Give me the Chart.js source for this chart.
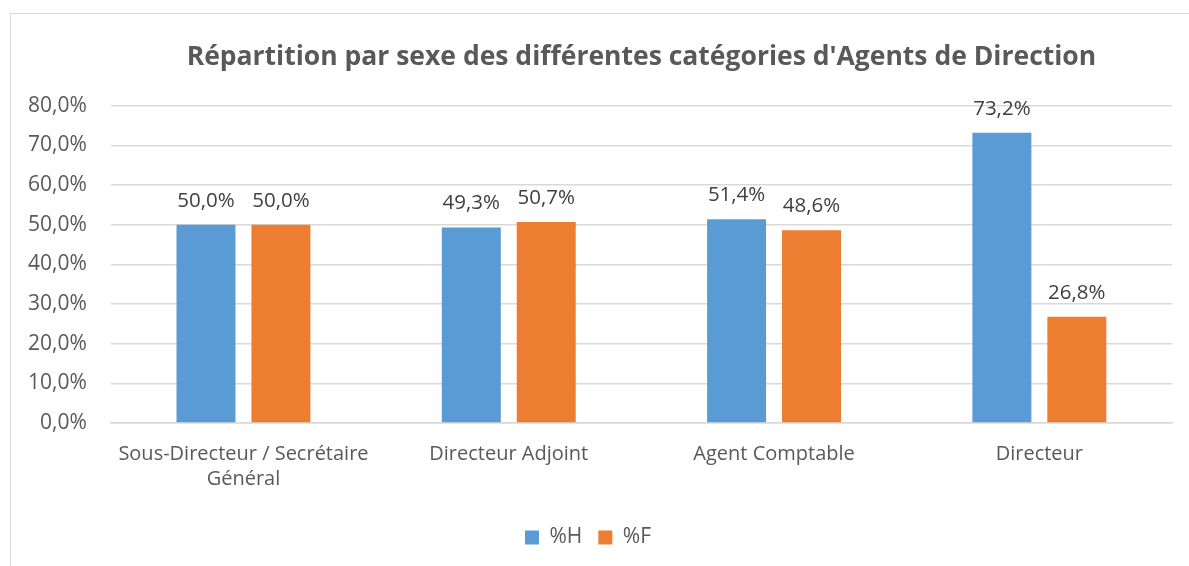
<!DOCTYPE html>
<html>
<head>
<meta charset="utf-8">
<script src="https://cdn.jsdelivr.net/npm/chart.js@4.4.0/dist/chart.umd.min.js"></script>
<style>
  html, body { margin: 0; padding: 0; background: #fff; }
  #frame { position: absolute; left: 10px; top: 13px; width: 1200px; height: 600px; border: 1px solid #d9d9d9; }
  #wrap { position: absolute; left: 0; top: 0; width: 1189px; height: 566px; }
</style>
</head>
<body>
<div id="frame"></div>
<div id="wrap"><canvas id="chart"></canvas></div>
<script>
var categories = [["Sous-Directeur / Secrétaire", "Général"], "Directeur Adjoint", "Agent Comptable", "Directeur"];
var valuesH = [50.0, 49.3, 51.4, 73.2];
var valuesF = [50.0, 50.7, 48.6, 26.8];
var seriesNames = ["%H", "%F"];
var titleText = "Répartition par sexe des différentes catégories d'Agents de Direction";

function fmt(v) {
    return v.toFixed(1).replace(".", ",") + "%";
}

// draw value labels above each bar
var barLabels = {
    id: 'barLabels',
    afterDatasetsDraw: function(chart) {
        var ctx = chart.ctx;
        ctx.save();
        ctx.font = '20.5px "Open Sans", sans-serif';
        ctx.fillStyle = '#404040';
        ctx.textAlign = 'center';
        ctx.textBaseline = 'middle';
        chart.data.datasets.forEach(function(ds, i) {
            chart.getDatasetMeta(i).data.forEach(function(bar, j) {
                ctx.fillText(fmt(ds.data[j]), bar.x, bar.y - 24);
            });
        });
        ctx.restore();
    }
};

var ctx = document.getElementById('chart').getContext('2d');
var chart = new Chart(ctx, {
    type: 'bar',
    data: {
        labels: categories,
        datasets: [{
            label: seriesNames[0],
            data: valuesH,
            backgroundColor: '#5b9bd5',
            categoryPercentage: 0.565,
            barPercentage: 0.787
        }, {
            label: seriesNames[1],
            data: valuesF,
            backgroundColor: '#ed7d31',
            categoryPercentage: 0.565,
            barPercentage: 0.787
        }]
    },
    options: {
        responsive: true,
        maintainAspectRatio: false,
        animation: false,
        layout: {
            padding: { left: 4, right: 17, top: 42, bottom: 8 }
        },
        scales: {
            y: {
                min: 0,
                max: 80,
                ticks: {
                    stepSize: 10,
                    color: '#595959',
                    font: { family: 'Open Sans', size: 21 },
                    padding: 24,
                    callback: function(v) { return fmt(v); }
                },
                grid: { color: '#d9d9d9', lineWidth: 1.5, drawTicks: false },
                border: { display: false }
            },
            x: {
                afterFit: function(scale) { scale.height += 8; },
                ticks: {
                    color: '#595959',
                    font: { family: 'Open Sans', size: 20, lineHeight: 1.25 },
                    padding: 11,
                    maxRotation: 0
                },
                grid: { display: false },
                border: { color: '#d9d9d9', width: 1.5 }
            }
        },
        plugins: {
            title: {
                display: true,
                fullSize: false,
                text: titleText,
                color: '#595959',
                font: { family: 'Open Sans', size: 26.5, weight: 'bold' },
                padding: { top: 0, bottom: 32 }
            },
            legend: {
                position: 'bottom',
                labels: {
                    color: '#595959',
                    font: { family: 'Open Sans', size: 21 },
                    boxWidth: 14,
                    boxHeight: 14,
                    padding: 16
                }
            },
            tooltip: { enabled: false }
        }
    },
    plugins: [barLabels]
});
</script>
</body>
</html>
